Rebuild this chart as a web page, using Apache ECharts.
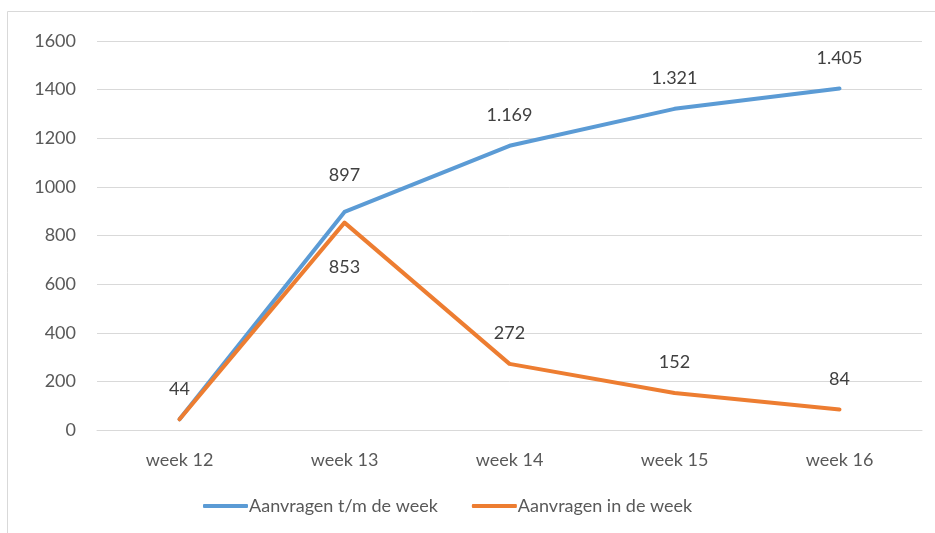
<!DOCTYPE html>
<html>
<head>
<meta charset="utf-8">
<script src="https://cdn.jsdelivr.net/npm/echarts@6/dist/echarts.min.js"></script>
<style>html,body{margin:0;padding:0;background:#fff}#c{width:935px;height:533px}</style>
</head>
<body>
<div id="c"></div>
<script>
const categories = ['week 12', 'week 13', 'week 14', 'week 15', 'week 16'];
const cumulative = [44, 897, 1169, 1321, 1405];
const weekly = [44, 853, 272, 152, 84];
const seriesNames = ['Aanvragen t/m de week', 'Aanvragen in de week'];
const yTicks = {min: 0, max: 1600, interval: 200};

const FONT = 'Lato, "Open Sans", sans-serif';
const fmt = v => v >= 1000 ? String(v).replace(/(\d)(\d{3})$/, '$1.$2') : String(v);

const chart = echarts.init(document.getElementById('c'));
chart.setOption({
  animation: false,
  backgroundColor: '#fff',
  graphic: [{type: 'rect', shape: {x: 7.5, y: 11.5, width: 1000, height: 600}, style: {fill: 'none', stroke: '#d9d9d9', lineWidth: 1}, silent: true, z: -1}],
  grid: {left: 97, right: 13, top: 41, bottom: 103},
  legend: {
    bottom: 13, left: 198, itemWidth: 45, itemHeight: 4, itemGap: 34,
    icon: 'roundRect',
    textStyle: {fontFamily: FONT, fontSize: 18, color: '#595959', padding: [0, 0, 0, -4]},
    data: seriesNames
  },
  xAxis: {
    type: 'category', data: categories, boundaryGap: true,
    axisLine: {show: true, lineStyle: {color: '#d9d9d9', width: 1}},
    axisTick: {show: false},
    axisLabel: {fontFamily: FONT, fontSize: 18, color: '#595959', margin: 21}
  },
  yAxis: {
    type: 'value', min: yTicks.min, max: yTicks.max, interval: yTicks.interval,
    axisLine: {show: false}, axisTick: {show: false},
    axisLabel: {fontFamily: FONT, fontSize: 18, color: '#595959', margin: 21, formatter: v => String(v)},
    splitLine: {lineStyle: {color: '#d9d9d9', width: 1}}
  },
  series: [
    {
      name: seriesNames[0], type: 'line',
      data: cumulative.map((v, i) => ({value: v, label: i === 0 ? {show: false} : (i === 1 ? {distance: 26} : {})})),
      symbol: 'circle', symbolSize: 3, showSymbol: true,
      lineStyle: {color: '#5b9bd5', width: 4, cap: 'round', join: 'round'},
      itemStyle: {color: '#5b9bd5'},
      label: {show: true, position: 'top', distance: 20, formatter: p => fmt(p.value), fontFamily: FONT, fontSize: 18, color: '#404040'},
      z: 2
    },
    {
      name: seriesNames[1], type: 'line',
      data: weekly.map((v, i) => i === 1 ? {value: v, label: {position: 'bottom', distance: 34}} : v),
      symbol: 'circle', symbolSize: 3, showSymbol: true,
      lineStyle: {color: '#ed7d31', width: 4, cap: 'round', join: 'round'},
      itemStyle: {color: '#ed7d31'},
      label: {show: true, position: 'top', distance: 20, formatter: p => fmt(p.value), fontFamily: FONT, fontSize: 18, color: '#404040'},
      z: 3
    }
  ]
});
</script>
</body>
</html>
